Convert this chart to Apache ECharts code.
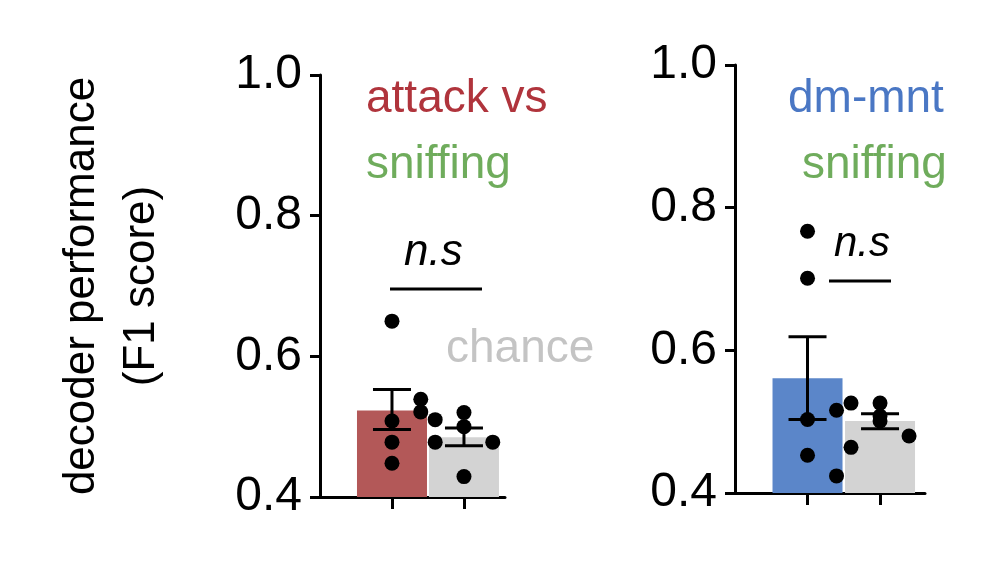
<!DOCTYPE html>
<html><head><meta charset="utf-8">
<script src="https://cdn.jsdelivr.net/npm/echarts@6/dist/echarts.min.js"></script>
<style>html,body{margin:0;background:#fff}#c{width:994px;height:571px}</style>
</head><body><div id="c"></div>
<script>
const yTicks = [0.4, 0.6, 0.8, 1.0];
const leftMeans = [0.523, 0.485];
const leftErr = [[0.496, 0.553], [0.473, 0.498]];
const leftDots1 = [0.65, 0.508, 0.478, 0.448, 0.539, 0.521];
const leftDots2 = [0.51, 0.478, 0.52, 0.50, 0.429, 0.478];
const rightMeans = [0.561, 0.501];
const rightErr = [[0.503, 0.619], [0.490, 0.511]];
const rightDots1 = [0.767, 0.701, 0.503, 0.453, 0.424, 0.516];
const rightDots2 = [0.526, 0.464, 0.526, 0.501, 0.508, 0.480];

const jit = [0, 0, 0, 0, 0.4, 0.4];
const jit2 = [-0.4, -0.4, 0, 0, 0, 0.4];
const font = 'Liberation Sans, Arial, sans-serif';
const chart = echarts.init(document.getElementById('c'));
function xAx(i){return {type:'value',gridIndex:i,min:0,max:i?2.62:2.57,
  axisLine:{show:true,lineStyle:{color:'#000',width:3}},
  axisTick:{show:true,customValues:[1,2],length:12,inside:false,lineStyle:{color:'#000',width:3}},
  axisLabel:{show:false},splitLine:{show:false}};}
function yAx(i){return {type:'value',gridIndex:i,min:0.4,max:1.0,interval:0.2,
  axisLine:{show:true,lineStyle:{color:'#000',width:3}},
  axisTick:{show:true,length:10,lineStyle:{color:'#000',width:3}},
  axisLabel:{fontSize:48,color:'#000',fontFamily:font,margin:18,formatter:v=>v.toFixed(1)},
  splitLine:{show:false},
  name:i?'':'decoder performance\n(F1 score)',nameLocation:'middle',nameGap:148,nameRotate:90,
  nameTextStyle:{fontSize:44,color:'#000',fontFamily:font,lineHeight:60}};}
function bars(i,means,c1){return {type:'bar',xAxisIndex:i,yAxisIndex:i,barWidth:70,
  data:[{value:[1,means[0]],itemStyle:{color:c1}},{value:[2,means[1]],itemStyle:{color:'#d3d3d3'}}],z:1};}
function errs(i,e){return {type:'custom',xAxisIndex:i,yAxisIndex:i,z:3,
  data:[[1,e[0][0],e[0][1]],[2,e[1][0],e[1][1]]],
  renderItem:(p,api)=>{const x=api.value(0),lo=api.coord([x,api.value(1)]),hi=api.coord([x,api.value(2)]);
    const s={stroke:'#000',lineWidth:3};
    return {type:'group',children:[
      {type:'line',shape:{x1:lo[0],y1:lo[1],x2:hi[0],y2:hi[1]},style:s},
      {type:'line',shape:{x1:lo[0]-19,y1:lo[1],x2:lo[0]+19,y2:lo[1]},style:s},
      {type:'line',shape:{x1:hi[0]-19,y1:hi[1],x2:hi[0]+19,y2:hi[1]},style:s}]};}};}
function dots(i,d1,d2){const data=d1.map((v,k)=>[1+jit[k],v]).concat(d2.map((v,k)=>[2+jit2[k],v]));
  return {type:'scatter',xAxisIndex:i,yAxisIndex:i,symbolSize:15,itemStyle:{color:'#000',opacity:1},data,z:4};}
function txt(x,y,t,c){return {type:'text',left:x,top:y,style:{text:t,fill:c,font:'46px '+font}};}
chart.setOption({
  animation:false,
  grid:[{left:320,top:75,width:185,height:422},{left:735,top:65,width:190,height:428}],
  xAxis:[xAx(0),xAx(1)],yAxis:[yAx(0),yAx(1)],
  series:[bars(0,leftMeans,'#b35858'),errs(0,leftErr),dots(0,leftDots1,leftDots2),
          bars(1,rightMeans,'#5b86c9'),errs(1,rightErr),dots(1,rightDots1,rightDots2)],
  graphic:[
    txt(366,76,'attack vs','#b0343c'),txt(366,142,'sniffing','#6fac5c'),
    txt(446,326,'chance','#c4c4c4'),
    txt(788,76,'dm-mnt','#4a77c4'),txt(802,142,'sniffing','#6fac5c'),
    {type:'text',left:404,top:231,style:{text:'n.s',fill:'#000',font:'italic 44px '+font}},
    {type:'line',shape:{x1:390,y1:289,x2:482,y2:289},style:{stroke:'#000',lineWidth:3}},
    {type:'text',left:834,top:223,style:{text:'n.s',fill:'#000',font:'italic 42px '+font}},
    {type:'line',shape:{x1:829,y1:281,x2:891,y2:281},style:{stroke:'#000',lineWidth:3}}
  ]
});
</script></body></html>
